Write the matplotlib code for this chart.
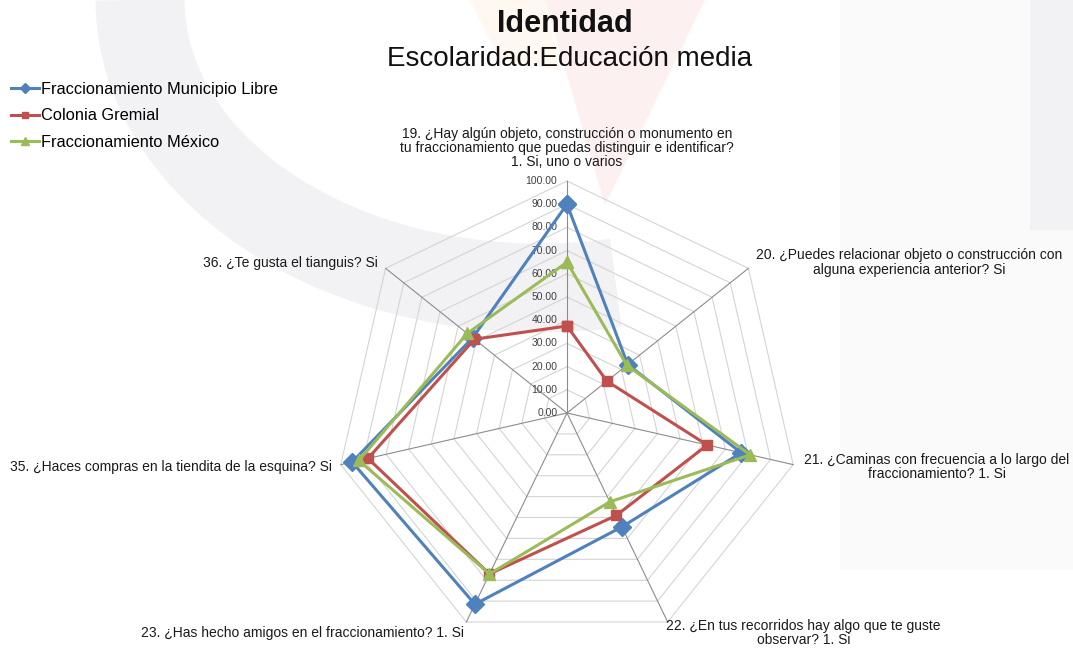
import numpy as np
import matplotlib.pyplot as plt
from matplotlib.patches import Polygon, Arc, Rectangle

plt.rcParams['font.family'] = ['Liberation Sans', 'DejaVu Sans']

# datos
categorias = [
    "19. ¿Hay algún objeto, construcción o monumento en\ntu fraccionamiento que puedas distinguir e identificar?\n1. Si, uno o varios",
    "20. ¿Puedes relacionar objeto o construcción con\nalguna experiencia anterior? Si",
    "21. ¿Caminas con frecuencia a lo largo del\nfraccionamiento? 1. Si",
    "22. ¿En tus recorridos hay algo que te guste\nobservar? 1. Si",
    "23. ¿Has hecho amigos en el fraccionamiento? 1. Si",
    "35. ¿Haces compras en la tiendita de la esquina? Si",
    "36. ¿Te gusta el tianguis? Si",
]
municipio_libre = [90.0, 33.5, 77.0, 54.5, 91.5, 95.0, 52.0]
colonia_gremial = [37.5, 22.0, 62.0, 49.0, 77.0, 88.0, 51.0]
fracc_mexico = [65.0, 33.0, 81.0, 42.5, 77.0, 92.0, 55.0]
ticks = np.arange(0, 101, 10)

W, H = 1073, 648
fig = plt.figure(figsize=(W / 100, H / 100), dpi=100)

# marca de agua de fondo (muy tenue)
bg = fig.add_axes([0, 0, 1, 1], zorder=0)
bg.set_xlim(0, W)
bg.set_ylim(H, 0)
bg.axis('off')
bg.add_patch(Arc((540, 0), 2 * 400, 2 * 288, theta1=75, theta2=180,
                 lw=64, color='#F2F2F5'))
bg.add_patch(Polygon([(545, 0), (705, 0), (605, 205)], closed=True,
                     color='#FDF0F1', lw=0))
bg.add_patch(Polygon([(470, 0), (545, 0), (560, 70), (500, 60)], closed=True,
                     color='#FEF8F1', lw=0))
bg.add_patch(Rectangle((840, 0), 233, 570, color='#FAFAFB', lw=0))
bg.add_patch(Rectangle((1030, 0), 43, 230, color='#F2F2F5', lw=0))

# radar
cx, cy, R = 567, 413, 232
ax = fig.add_axes([(cx - R) / W, 1 - (cy + R) / H, 2 * R / W, 2 * R / H],
                  projection='polar', zorder=2)
ax.set_facecolor('none')
ax.set_theta_zero_location('N')
ax.set_theta_direction(-1)
ax.set_ylim(0, 100)
ax.grid(False)
ax.spines['polar'].set_visible(False)
ax.set_xticks([])
ax.set_yticks([])

n = len(categorias)
ang = np.linspace(0, 2 * np.pi, n, endpoint=False)
ang_c = np.append(ang, ang[0])

for t in ticks[1:]:
    ax.plot(ang_c, [t] * (n + 1), color='#D4D4D4', lw=0.8, zorder=1, clip_on=False)
for a in ang:
    ax.plot([a, a], [0, 100], color='#8C8C8C', lw=0.8, zorder=1, clip_on=False)

for t in ticks:
    ax.annotate(f"{t:.2f}", xy=(0, t), xytext=(-7, 0), textcoords='offset points',
                ha='right', va='center', fontsize=7.5, color='#404040')

series = [
    ("Fraccionamiento Municipio Libre", municipio_libre, '#4F81BD', 'D', 9),
    ("Colonia Gremial", colonia_gremial, '#C0504D', 's', 7.5),
    ("Fraccionamiento México", fracc_mexico, '#9BBB59', '^', 8.5),
]
for nombre, vals, col, mk, ms in series:
    ax.plot(ang_c, vals + vals[:1], color=col, lw=2.2, marker=mk, ms=ms,
            label=nombre, zorder=3, clip_on=False)

# etiquetas de categorias
pos = [
    (105, 'center', 'bottom'),
    (104, 'left', 'center'),
    (105, 'left', 'center'),
    (98.5, 'left', 'top'),
    (102, 'right', 'top'),
    (104, 'right', 'center'),
    (104, 'right', 'center'),
]
for a, txt, (r, ha, va) in zip(ang, categorias, pos):
    ax.text(a, r, txt, ha=ha, va=va, ma='center', fontsize=10,
            linespacing=1.02, color='#1a1a1a')

fig.legend(loc='upper left', bbox_to_anchor=(0.004, 1 - 75 / H), frameon=False,
           fontsize=11.8, handlelength=1.7, handletextpad=0.15, labelspacing=0.72,
           markerscale=0.6, borderaxespad=0)

fig.text(565 / W, 1 - 24 / H, "Identidad", ha='center', va='center',
         fontsize=22, fontweight='bold', color='#111111')
fig.text(570 / W, 1 - 59 / H, "Escolaridad:Educación media", ha='center',
         va='center', fontsize=20, color='#111111')

fig.savefig('out.png', dpi=100)
